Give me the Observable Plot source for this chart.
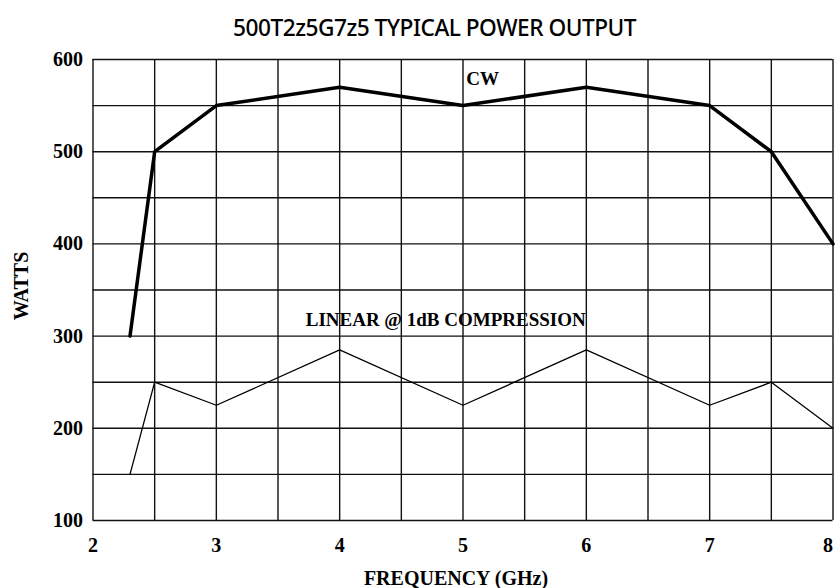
<!DOCTYPE html>
<html>
<head>
<meta charset="utf-8">
<script src="https://cdn.jsdelivr.net/npm/d3@7"></script>
<script src="https://cdn.jsdelivr.net/npm/@observablehq/plot@0.6"></script>
<style>
  body { margin: 0; background: #fff; }
  #wrap { position: relative; width: 835px; height: 588px; }
  #title { position: absolute; top: 12px; left: 0; width: 835px; text-align: center; padding-left: 34px; box-sizing: border-box;
    font-family: "Noto Sans", "DejaVu Sans", sans-serif; font-weight: 500;
    font-size: 22.7px; color: #000; letter-spacing: -0.5px; z-index: 2; }
</style>
</head>
<body>
<div id="wrap">
<div id="title">500T2z5G7z5 TYPICAL POWER OUTPUT</div>
<div id="chart"></div>
</div>
<script>
const freq = [2.3, 2.5, 3, 4, 5, 6, 7, 7.5, 8];
const cw = [300, 500, 550, 570, 550, 570, 550, 500, 400];
const linear = [150, 250, 225, 285, 225, 285, 225, 250, 200];
const xTicks = [2, 3, 4, 5, 6, 7, 8];
const yTicks = [100, 200, 300, 400, 500, 600];
const xGrid = d3.range(2, 8.001, 0.5);
const yGrid = d3.range(100, 600.1, 50);
const seriesLabels = [
  {x: 5.16, y: 579, text: "CW"},
  {x: 4.86, y: 318, text: "LINEAR @ 1dB COMPRESSION"}
];
const xLabel = "FREQUENCY (GHz)";
const yLabel = "WATTS";

const cwData = freq.map((f, i) => ({f, w: cw[i]}));
const linData = freq.map((f, i) => ({f, w: linear[i]}));
const lastTick = xTicks[xTicks.length - 1];

const chart = Plot.plot({
  width: 835,
  height: 588,
  marginLeft: 92.5,
  marginRight: 2.5,
  marginTop: 59,
  marginBottom: 68,
  style: {fontFamily: "'Liberation Serif', 'DejaVu Serif', serif", fontSize: "20px", fontWeight: "bold", background: "#fff"},
  x: {domain: [2, 8]},
  y: {domain: [100, 600]},
  marks: [
    Plot.ruleX(xGrid, {stroke: "#111", strokeWidth: 1.4}),
    Plot.ruleY(yGrid, {stroke: "#111", strokeWidth: 1.4}),
    Plot.axisX(xTicks.filter(d => d !== lastTick), {tickSize: 0, tickPadding: 17, tickFormat: d => d, fontSize: 20, fontWeight: "bold", label: null}),
    Plot.axisX([lastTick], {tickSize: 0, tickPadding: 17, tickFormat: d => d, fontSize: 20, fontWeight: "bold", dx: -5, label: null}),
    Plot.axisY(yTicks, {tickSize: 0, tickPadding: 10, tickFormat: d => d, fontSize: 20, fontWeight: "bold", label: null}),
    Plot.text([xLabel], {text: d => d, frameAnchor: "bottom", textAnchor: "middle", lineAnchor: "middle", dy: 58, dx: -7, fontSize: 20, fontWeight: "bold", fill: "#000"}),
    Plot.text([yLabel], {text: d => d, frameAnchor: "left", textAnchor: "middle", lineAnchor: "middle", rotate: -90, dx: -71, dy: -4, fontSize: 20, fontWeight: "bold", fill: "#000"}),
    Plot.line(linData, {x: "f", y: "w", stroke: "#000", strokeWidth: 1.3}),
    Plot.line(cwData, {x: "f", y: "w", stroke: "#000", strokeWidth: 3.5, strokeLinejoin: "miter"}),
    Plot.text(seriesLabels, {x: "x", y: "y", text: "text", fontSize: 19, fontWeight: "bold", fill: "#000"})
  ]
});
document.getElementById("chart").appendChild(chart);
</script>
</body>
</html>
